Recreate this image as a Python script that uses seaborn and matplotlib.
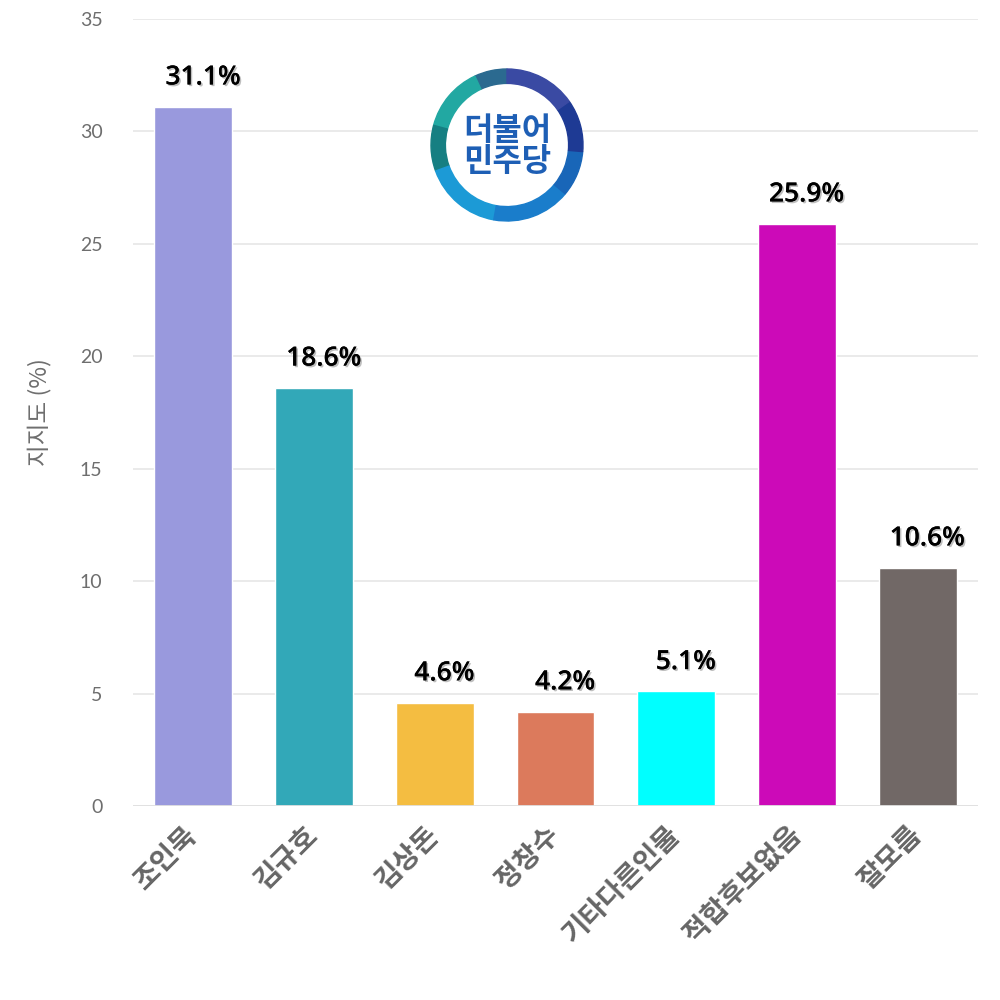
import numpy as np
import pandas as pd
import matplotlib
matplotlib.use("Agg")
import matplotlib.pyplot as plt
import matplotlib.patheffects as pe
from matplotlib.patches import Wedge, Circle
import seaborn as sns

# ---- data ----
categories = ["조인묵", "김규호", "김상돈", "정창수", "기타다른인물", "적합후보없음", "잘모름"]
support = [31.1, 18.6, 4.6, 4.2, 5.1, 25.9, 10.6]
bar_colors = ["#9999DD", "#32A8B8", "#F4BD41", "#DC7A5C", "#00FFFF", "#CC0AB8", "#716866"]
y_ticks = [0, 5, 10, 15, 20, 25, 30, 35]
y_label = "지지도 (%)"
logo_text = "더불어\n민주당"

sns.set_theme(style="white")
plt.rcParams["font.family"] = ["Noto Sans CJK KR", "DejaVu Sans"]

df = pd.DataFrame({"cat": categories, "val": support})

fig = plt.figure(figsize=(10, 10), dpi=100)
ax = fig.add_axes([0.133, 0.194, 0.845, 0.787])

sns.barplot(data=df, x="cat", y="val", hue="cat", palette=bar_colors,
            legend=False, width=0.646, saturation=1, ax=ax, zorder=3)

ax.set_ylim(0, 35)
ax.set_yticks(y_ticks)
ax.set_yticklabels([str(t) for t in y_ticks], family=["Lato", "DejaVu Sans"],
                   fontweight="normal", fontsize=14, color="#6e6e6e")
ax.grid(axis="y", color="#e6e6e6", linewidth=1.2, zorder=0)
ax.grid(axis="x", visible=False)
for s in ax.spines.values():
    s.set_visible(False)
ax.axhline(0, color="#e0e0e0", linewidth=2, zorder=4)
ax.tick_params(axis="y", length=0, pad=22)
ax.tick_params(axis="x", length=0, pad=18)
ax.set_xlim(-0.5, len(categories) - 0.5)

ax.set_xticks(range(len(categories)))
ax.set_xticklabels(categories, rotation=45, ha="right", va="center",
                   rotation_mode="anchor", fontsize=20, fontweight="bold",
                   color="#666666")
ax.set_xlabel("")
ax.set_ylabel(y_label, fontsize=17, color="#6e6e6e", fontweight="normal", labelpad=20)

for i, v in enumerate(support):
    ax.annotate(f"{v:.1f}%", xy=(i, v), xytext=(7, 16), textcoords="offset points",
                ha="center", va="baseline", fontsize=19, fontweight="semibold",
                family=["Open Sans", "DejaVu Sans"], color="black", zorder=5,
                path_effects=[pe.withSimplePatchShadow(offset=(1.2, -1.2),
                                                       shadow_rgbFace="black", alpha=0.25),
                              pe.Normal()])

# ---- logo ----
lax = fig.add_axes([0.427, 0.775, 0.16, 0.16])
lax.set_xlim(-1, 1)
lax.set_ylim(-1, 1)
lax.set_aspect("equal")
lax.axis("off")
segments = [(90, 115, "#2B6A90"), (115, 165, "#22A8A2"), (165, 200, "#167F82"),
            (200, 260, "#1C9AD6"), (260, 320, "#1A7DCB"), (320, 355, "#1966B8"),
            (355, 395, "#1E3A94"), (35, 90, "#3A4AA3")]
lax.add_patch(Circle((0, 0), 0.95, color="white", zorder=0))
for t1, t2, c in segments:
    lax.add_patch(Wedge((0, 0), 0.95, t1, t2, width=0.18, color=c, zorder=1))
lax.text(0, -0.02, logo_text, ha="center", va="center", fontsize=23,
         fontweight="black", color="#1E5FB5", linespacing=0.95, zorder=2)

fig.savefig("out.png", dpi=100, facecolor="white")
